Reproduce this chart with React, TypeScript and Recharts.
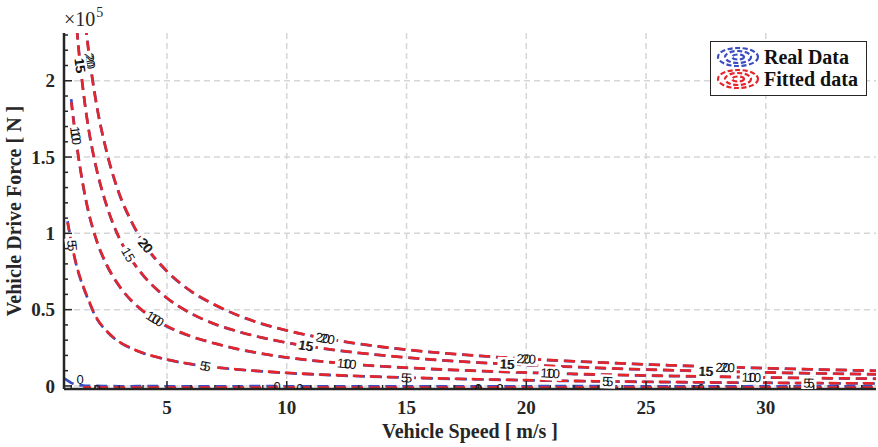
import React from "react";
import {
  ComposedChart,
  Line,
  Scatter,
  XAxis,
  YAxis,
  CartesianGrid,
  Legend,
  Label,
} from "recharts";

// speed grid [m/s] shared by every contour line
const speed = [0.7, 0.85, 1, 1.25, 1.5, 1.75, 2, 2.5, 3, 3.5, 4, 5, 6, 7, 8, 9, 10, 12, 14, 16, 18, 20, 22, 24, 26, 28, 30, 32, 34.6];

// drive force [N] along each fuel-rate contour
const real0 = [5000, 3500, 2000, 800, 300, 100, 0, -100, -200, -200, -100, -200, -300, -200, -200, -100, -200, -300, -200, -200, -300, -200, -100, -200, -300, -200, -200, -300, -200];
const real5 = [null, 108000, 95000, 77000, 65000, 55000, 46000, 35500, 28800, 24600, 21500, 17200, 14300, 12200, 10700, 9500, 8500, 7000, 5900, 5000, 4300, 3700, 3200, 2800, 2500, 2200, 2000, 1800, 1600];
const real10 = [null, null, 188000, 156000, 131000, 112000, 98000, 78500, 65500, 56000, 49000, 39000, 32500, 27800, 24000, 21000, 18600, 15200, 12800, 11100, 9800, 8700, 7800, 7100, 6500, 6000, 5500, 5100, 4700];
const real15 = [null, null, 290000, 232000, 194000, 166000, 146000, 117000, 97000, 83000, 72500, 57500, 47500, 40500, 35500, 31500, 28300, 23500, 20000, 17300, 15300, 13700, 12400, 11200, 10300, 9500, 8800, 8200, 7600];
const real20 = [null, null, null, 304000, 253000, 217000, 190000, 152000, 126000, 108000, 94000, 75000, 62000, 53000, 46000, 40500, 36300, 30000, 25500, 22200, 19700, 17700, 16100, 14700, 13500, 12500, 11600, 10800, 9900];

const fit0 = [null, null, null, null, -900, -1000, -1000, -1100, -1000, -1000, -1100, -1000, -1000, -1100, -1000, -1000, -1100, -1000, -1000, -1000, -1100, -1000, -1000, -1100, -1000, -1000, -1000, -1100, -1000];
const fit5 = [null, 107000, 94500, 77500, 65500, 55500, 46300, 35800, 29000, 24800, 21600, 17300, 14400, 12300, 10800, 9600, 8600, 7100, 6000, 5100, 4400, 3800, 3300, 2900, 2600, 2300, 2100, 1900, 1700];
const fit10 = [null, null, 186000, 155500, 131500, 112500, 98500, 79000, 65800, 56200, 49200, 39200, 32600, 27900, 24100, 21100, 18700, 15300, 12900, 11200, 9900, 8800, 7900, 7200, 6600, 6100, 5600, 5200, 4800];
const fit15 = [null, null, 288000, 231000, 193500, 166500, 146500, 117500, 97300, 83200, 72700, 57700, 47600, 40600, 35600, 31600, 28400, 23600, 20100, 17400, 15400, 13800, 12500, 11300, 10400, 9600, 8900, 8300, 7700];
const fit20 = [null, null, null, 302000, 252000, 216000, 189500, 152500, 126500, 108500, 94500, 75300, 62200, 53200, 46100, 40600, 36400, 30100, 25600, 22300, 19800, 17800, 16200, 14800, 13600, 12600, 11700, 10900, 10000];

const levels = [0, 5, 10, 15, 20];
const realSets = [real0, real5, real10, real15, real20];
const fitSets = [fit0, fit5, fit10, fit15, fit20];

// contour labels: text, speed, force, angle, offset of the overlapping copy
const contourLabels: [string, number, number, number, number][] = [
  ["20", 1.78, 213000, 82, 2],
  ["20", 4.1, 92000, 50, 1],
  ["20", 11.6, 31200, 11, 5],
  ["20", 20, 17700, 3, 5],
  ["20", 28.3, 12100, 2, 5],
  ["15", 1.37, 210000, 82, 1],
  ["15", 3.38, 86000, 60, 0],
  ["15", 10.8, 26400, 9, 1],
  ["15", 19.2, 14300, 3, 1],
  ["15", 27.5, 9700, 2, 1],
  ["10", 1.19, 164000, 83, 4],
  ["10", 4.5, 44000, 32, 4],
  ["10", 12.5, 14600, 6, 5],
  ["10", 21, 8300, 3, 5],
  ["10", 29.4, 5700, 2, 5],
  ["5", 1.04, 92000, 84, 4],
  ["5", 6.6, 13000, 12, 4],
  ["5", 15, 5400, 3, 4],
  ["5", 23.4, 2900, 2, 4],
  ["5", 31.8, 1900, 1, 4],
  ["0", 1.37, 4000, 0, 0],
  ["0", 2.08, -2000, 0, 0],
  ["0", 9.6, -500, 0, 0],
  ["0", 10.55, -1500, 0, 0],
  ["0", 18, -1500, 0, 0],
  ["0", 18.9, -1500, 0, 0],
  ["0", 27.3, -1500, 0, 0],
];

const xMajor = [5, 10, 15, 20, 25, 30];
const xMinor = [1, 2, 3, 4, 5, 6, 7, 8, 9, 10, 11, 12, 13, 14, 15, 16, 17, 18, 19, 20, 21, 22, 23, 24, 25, 26, 27, 28, 29, 30, 31, 32, 33, 34];
const yMajor = [0, 50000, 100000, 150000, 200000];
const yMinor = [0, 10000, 20000, 30000, 40000, 50000, 60000, 70000, 80000, 90000, 100000, 110000, 120000, 130000, 140000, 150000, 160000, 170000, 180000, 190000, 200000, 210000, 220000, 230000];

const BLUE = "#3b4cc0";
const RED = "#e4262b";
const INK = "#262626";
const SERIF = "'Liberation Serif', 'Times New Roman', serif";
const axisLine = { stroke: INK, strokeWidth: 2.5 };

const toPoints = (arr: (number | null)[]) => speed.map((v, i) => ({ v, F: arr[i] }));

function BottomTick({ x, y, payload }: any) {
  const major = xMajor.includes(payload.value);
  return (
    <g>
      <line x1={x} y1={y} x2={x} y2={y - (major ? 8 : 4)} stroke={INK} strokeWidth={1.5} />
      {major && (
        <text x={x} y={y + 25} textAnchor="middle" fontFamily={SERIF} fontWeight="bold" fontSize={19} fill={INK}>
          {payload.value}
        </text>
      )}
    </g>
  );
}

function TopTick({ x, y, payload }: any) {
  const major = xMajor.includes(payload.value);
  return <line x1={x} y1={y} x2={x} y2={y + (major ? 8 : 4)} stroke={INK} strokeWidth={1.5} />;
}

function LeftTick({ x, y, payload }: any) {
  const major = yMajor.includes(payload.value);
  return (
    <g>
      <line x1={x} y1={y} x2={x + (major ? 8 : 4)} y2={y} stroke={INK} strokeWidth={1.5} />
      {major && (
        <text x={x - 9} y={y} dy="0.35em" textAnchor="end" fontFamily={SERIF} fontWeight="bold" fontSize={19} fill={INK}>
          {payload.value / 100000}
        </text>
      )}
    </g>
  );
}

function RightTick({ x, y, payload }: any) {
  const major = yMajor.includes(payload.value);
  return <line x1={x} y1={y} x2={x - (major ? 8 : 4)} y2={y} stroke={INK} strokeWidth={1.5} />;
}

// real and fitted labels sit almost on top of each other: one text node,
// every glyph placed twice (second copy shifted by `dup`)
function ContourLabel(props: any) {
  const { cx, cy, payload } = props;
  if (cx == null || cy == null) return null;
  const { text, angle, dup } = payload;
  const glyph = 7.2;
  const width = text.length * glyph + dup;
  const left = cx - width / 2;
  const glyphs: { ch: string; pos: number }[] = [];
  text.split("").forEach((ch: string, j: number) => {
    glyphs.push({ ch, pos: left + j * glyph });
    if (dup > 0) glyphs.push({ ch, pos: left + j * glyph + dup });
  });
  glyphs.sort((a, b) => a.pos - b.pos);
  const w = width + 4;
  return (
    <g transform={`rotate(${angle}, ${cx}, ${cy})`}>
      {text !== "0" && <rect x={cx - w / 2} y={cy - 7} width={w} height={14} fill="#fff" />}
      <text
        x={glyphs.map((g) => g.pos.toFixed(2)).join(" ")}
        y={cy}
        dy="0.35em"
        fontFamily="'Liberation Sans', Arial, sans-serif"
        fontSize={13}
        fill="#111"
      >
        {glyphs.map((g) => g.ch).join("")}
      </text>
    </g>
  );
}

function ContourIcon({ color }: { color: string }) {
  return (
    <svg width={46} height={22}>
      <g fill="none" stroke={color} strokeWidth={2.2} strokeDasharray="5 2.5">
        <ellipse cx={23} cy={11} rx={20} ry={9} />
        <ellipse cx={23} cy={11} rx={13} ry={6} />
        <ellipse cx={23} cy={11} rx={6} ry={2.5} />
      </g>
    </svg>
  );
}

const legendRows = [
  { name: "Real Data", color: BLUE },
  { name: "Fitted data", color: RED },
];

function LegendBox() {
  return (
    <div
      style={{
        width: 157,
        height: 55,
        boxSizing: "border-box",
        border: `1px solid ${INK}`,
        background: "#fff",
        paddingTop: 4,
        fontFamily: SERIF,
        fontWeight: "bold",
        fontSize: 20,
        color: "#111",
      }}
    >
      {legendRows.map((r) => (
        <div key={r.name} style={{ display: "flex", alignItems: "center", height: 22, paddingLeft: 4 }}>
          <ContourIcon color={r.color} />
          <span style={{ marginLeft: 3, lineHeight: "22px" }}>{r.name}</span>
        </div>
      ))}
    </div>
  );
}

export default function App() {
  const labelPoints = contourLabels.map(([text, v, F, angle, dup]) => ({ v, F, text, angle, dup }));

  return (
    <div style={{ width: 878, height: 447, background: "#fff" }}>
      <style>{"body{margin:0}"}</style>
      <ComposedChart width={878} height={447} margin={{ top: 33, right: 2, bottom: 0, left: 0 }}>
        <CartesianGrid
          xAxisId="b"
          yAxisId="l"
          verticalValues={xMajor}
          horizontalValues={yMajor}
          stroke="#d6d6d6"
          strokeWidth={1.5}
          strokeDasharray="6 4"
        />
        <XAxis
          xAxisId="b"
          type="number"
          dataKey="v"
          domain={[0.7, 34.6]}
          allowDataOverflow
          ticks={xMinor}
          interval={0}
          tickSize={0}
          tickMargin={0}
          tickLine={false}
          axisLine={axisLine}
          height={58}
          tick={(p: any) => <BottomTick {...p} />}
        >
          <Label
            content={({ viewBox }: any) => (
              <text x={viewBox.x + viewBox.width / 2} y={viewBox.y + 49} textAnchor="middle" fontFamily={SERIF} fontWeight="bold" fontSize={20} fill={INK}>
                Vehicle Speed [ m/s ]
              </text>
            )}
          />
        </XAxis>
        <XAxis
          xAxisId="t"
          orientation="top"
          mirror
          type="number"
          domain={[0.7, 34.6]}
          allowDataOverflow
          ticks={xMinor}
          interval={0}
          tickSize={0}
          tickMargin={0}
          tickLine={false}
          axisLine={axisLine}
          height={0}
          tick={(p: any) => <TopTick {...p} />}
        >
          <Label
            content={({ viewBox }: any) => (
              <text x={viewBox.x + viewBox.width / 2} y={19} textAnchor="middle" fontFamily={SERIF} fontWeight="bold" fontSize={18} fill="#111">
                Fuel Consumption Rate [ g/s ]
              </text>
            )}
          />
        </XAxis>
        <YAxis
          yAxisId="l"
          type="number"
          dataKey="F"
          domain={[-2000, 231300]}
          allowDataOverflow
          ticks={yMinor}
          interval={0}
          tickSize={0}
          tickMargin={0}
          tickLine={false}
          axisLine={axisLine}
          width={64}
          tick={(p: any) => <LeftTick {...p} />}
        >
          <Label
            content={({ viewBox }: any) => {
              const cy = viewBox.y + viewBox.height / 2;
              return (
                <text x={21} y={cy} transform={`rotate(-90, 21, ${cy})`} textAnchor="middle" fontFamily={SERIF} fontWeight="bold" fontSize={20} fill={INK}>
                  Vehicle Drive Force [ N ]
                </text>
              );
            }}
          />
          <Label
            content={() => (
              <text x={64} y={26} fontFamily={SERIF} fontSize={20} fill={INK}>
                ×10
                <tspan dx={1} dy={-9} fontSize={14}>5</tspan>
              </text>
            )}
          />
        </YAxis>
        <YAxis
          yAxisId="r"
          orientation="right"
          mirror
          type="number"
          domain={[-2000, 231300]}
          allowDataOverflow
          ticks={yMinor}
          interval={0}
          tickSize={0}
          tickMargin={0}
          tickLine={false}
          axisLine={axisLine}
          width={0}
          tick={(p: any) => <RightTick {...p} />}
        />

        {levels.map((lv, k) => (
          <Line
            key={`real-${lv}`}
            xAxisId="b"
            yAxisId="l"
            data={toPoints(realSets[k])}
            dataKey="F"
            name="Real Data"
            type="monotone"
            stroke={BLUE}
            strokeWidth={2.7}
            strokeDasharray="11 6"
            dot={false}
            activeDot={false}
            legendType="none"
            isAnimationActive={false}
          />
        ))}
        {levels.map((lv, k) => (
          <Line
            key={`fit-${lv}`}
            xAxisId="b"
            yAxisId="l"
            data={toPoints(fitSets[k])}
            dataKey="F"
            name="Fitted data"
            type="monotone"
            stroke={RED}
            strokeWidth={2.6}
            strokeDasharray="11 6"
            strokeDashoffset={3}
            dot={false}
            activeDot={false}
            legendType="none"
            isAnimationActive={false}
          />
        ))}
        <Scatter
          xAxisId="b"
          yAxisId="l"
          data={labelPoints}
          dataKey="F"
          shape={(p: any) => <ContourLabel {...p} />}
          legendType="none"
          isAnimationActive={false}
        />
        <Legend
          layout="horizontal"
          verticalAlign="middle"
          align="center"
          content={() => <LegendBox />}
          wrapperStyle={{ position: "absolute", left: 710, top: 41, width: 157, height: 55 }}
        />
      </ComposedChart>
    </div>
  );
}
